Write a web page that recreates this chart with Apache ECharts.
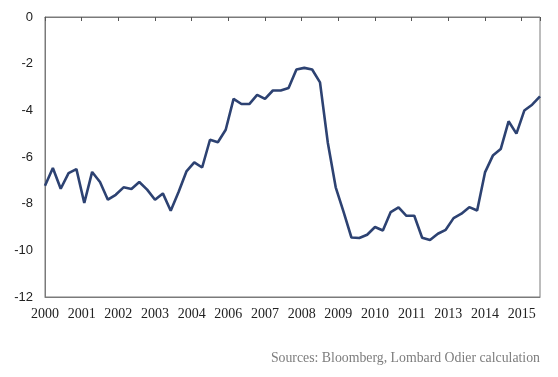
<!DOCTYPE html>
<html>
<head>
<meta charset="utf-8">
<script src="https://cdn.jsdelivr.net/npm/echarts@6/dist/echarts.min.js"></script>
<style>
  html, body { margin: 0; padding: 0; background: #fff; }
  #main { width: 558px; height: 377px; }
</style>
</head>
<body>
<div id="main"></div>
<script>
// quarterly readings, 2000 Q1 .. 2015 Q4
var values = [
    -7.23, -6.47, -7.36, -6.69, -6.52, -7.97, -6.64, -7.07,
    -7.83, -7.62, -7.30, -7.37, -7.07, -7.40, -7.83, -7.56,
    -8.30, -7.50, -6.62, -6.23, -6.45, -5.26, -5.37, -4.83,
    -3.51, -3.73, -3.73, -3.34, -3.51, -3.15, -3.15, -3.04,
    -2.25, -2.18, -2.25, -2.80, -5.40, -7.30, -8.35, -9.45,
    -9.47, -9.33, -9.00, -9.15, -8.36, -8.16, -8.52, -8.52,
    -9.46, -9.56, -9.29, -9.12, -8.62, -8.43, -8.15, -8.29,
    -6.66, -5.94, -5.66, -4.47, -5.00, -4.01, -3.76, -3.40
];
var tickLabels = ['2000', '2001', '2002', '2003', '2004', '2006', '2007',
    '2008', '2009', '2010', '2011', '2013', '2014', '2015'];
var yTicks = [0, -2, -4, -6, -8, -10, -12];
var sourceText = 'Sources: Bloomberg, Lombard Odier calculation';

var tickStep = 14 / 3;
var lastIndex = values.length - 1;
var points = values.map(function (v, i) { return [i, v]; });

var chartDom = document.getElementById('main');
var myChart = echarts.init(chartDom);
var option;

option = {
    animation: false,
    grid: {
        left: 45,
        right: 18,
        top: 17,
        bottom: 80,
        show: true,
        borderColor: '#7a7a7a',
        borderWidth: 1
    },
    graphic: [
        {
            type: 'text',
            right: 18,
            top: 351,
            style: {
                text: sourceText,
                fill: '#7d7d7d',
                font: '13.8px "Liberation Serif"'
            }
        }
    ],
    xAxis: [
        {
            type: 'value',
            min: 0,
            max: lastIndex,
            interval: tickStep,
            position: 'bottom',
            axisLine: { show: true, onZero: false, lineStyle: { color: '#7a7a7a' } },
            axisTick: { show: false },
            splitLine: { show: false },
            axisLabel: {
                margin: 10,
                color: '#222',
                fontFamily: 'Liberation Serif',
                fontSize: 14,
                showMaxLabel: false,
                formatter: function (v) {
                    return tickLabels[Math.round(v / tickStep)] || '';
                }
            }
        },
        {
            // top edge: only the small tick marks
            type: 'value',
            min: 0,
            max: lastIndex,
            interval: tickStep,
            position: 'top',
            axisLine: { show: true, onZero: false, lineStyle: { color: '#7a7a7a' } },
            axisTick: { show: true, inside: true, length: 4, lineStyle: { color: '#555', width: 1 } },
            splitLine: { show: false },
            axisLabel: { show: false }
        }
    ],
    yAxis: {
        type: 'value',
        min: yTicks[yTicks.length - 1],
        max: yTicks[0],
        interval: 2,
        axisLine: { show: true, lineStyle: { color: '#7a7a7a' } },
        axisTick: { show: false },
        splitLine: { show: false },
        axisLabel: {
            margin: 12,
            color: '#222',
            fontFamily: 'Liberation Sans',
            fontSize: 13
        }
    },
    series: [
        {
            type: 'line',
            xAxisIndex: 0,
            symbol: 'none',
            lineStyle: { color: '#2d4272', width: 2.6 },
            data: points
        }
    ]
};

option && myChart.setOption(option);
</script>
</body>
</html>
